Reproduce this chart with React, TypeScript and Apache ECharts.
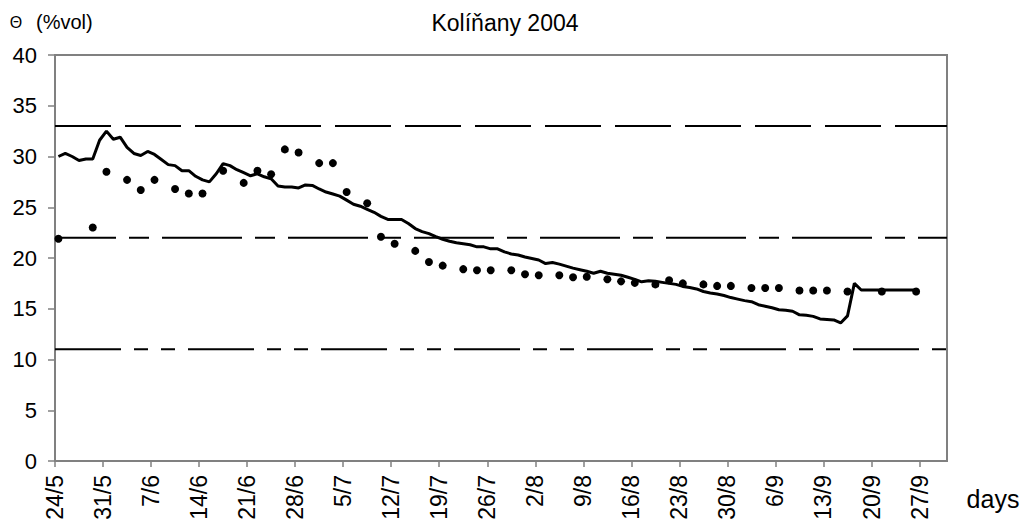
import React, { useEffect, useRef } from "react";
import * as echarts from "echarts";

// Day index counted from 24/5/2004
const tickDays = [0, 7, 14, 21, 28, 35, 42, 49, 56, 63, 70, 77, 84, 91, 98, 105, 112, 119, 126];
const tickLabels = ["24/5", "31/5", "7/6", "14/6", "21/6", "28/6", "5/7", "12/7", "19/7", "26/7", "2/8", "9/8", "16/8", "23/8", "30/8", "6/9", "13/9", "20/9", "27/9"];

// Simulated soil moisture (daily, from day 0)
const modelValues = [
  30.0, 30.3, 30.0, 29.6, 29.75, 29.75, 31.6, 32.5, 31.7, 31.9,
  30.9, 30.3, 30.1, 30.5, 30.2, 29.7, 29.2, 29.1, 28.6, 28.6,
  28.05, 27.7, 27.5, 28.3, 29.3, 29.1, 28.7, 28.4, 28.1, 28.3,
  28.0, 27.8, 27.1, 27.0, 27.0, 26.9, 27.2, 27.15, 26.8, 26.5,
  26.3, 26.1, 25.7, 25.3, 25.1, 24.8, 24.5, 24.1, 23.8, 23.8,
  23.8, 23.4, 22.9, 22.6, 22.4, 22.1, 21.85, 21.65, 21.5, 21.4,
  21.3, 21.1, 21.1, 20.9, 20.9, 20.6, 20.4, 20.3, 20.1, 19.95,
  19.8, 19.45, 19.55, 19.4, 19.2, 19.0, 18.85, 18.7, 18.5, 18.7,
  18.5, 18.4, 18.3, 18.1, 17.9, 17.65, 17.75, 17.7, 17.6, 17.5,
  17.4, 17.2, 17.1, 16.95, 16.7, 16.55, 16.45, 16.3, 16.1, 15.95,
  15.8, 15.7, 15.4, 15.25, 15.1, 14.9, 14.85, 14.75, 14.4, 14.35,
  14.25, 14.0, 13.95, 13.9, 13.6, 14.3, 17.5, 16.85, 16.85, 16.85,
  16.85, 16.85, 16.85, 16.85, 16.85, 16.85,
];

// Measured points
const measuredDays = [
  0, 5, 7, 10, 12, 14, 17, 19, 21, 24, 27, 29, 31, 33, 35, 38, 40, 42, 45, 47,
  49, 52, 54, 56, 59, 61, 63, 66, 68, 70, 73, 75, 77, 80, 82, 84, 87, 89, 91, 94,
  96, 98, 101, 103, 105, 108, 110, 112, 115, 120, 125,
];
const measuredValues = [
  21.9, 23.0, 28.5, 27.7, 26.7, 27.7, 26.8, 26.35, 26.35, 28.6, 27.4, 28.6, 28.25, 30.7, 30.4, 29.35, 29.35, 26.5, 25.4, 22.1,
  21.4, 20.7, 19.6, 19.25, 18.9, 18.8, 18.8, 18.8, 18.4, 18.3, 18.3, 18.1, 18.15, 17.9, 17.7, 17.55, 17.4, 17.8, 17.5, 17.4,
  17.25, 17.25, 17.05, 17.05, 17.05, 16.8, 16.8, 16.8, 16.7, 16.7, 16.7,
];

// Reference levels
const levelUpper = 33;
const levelMiddle = 22;
const levelLower = 11;

const X_MIN = 0;
const X_MAX = 130;
const DAY_OFFSET = 0.5; // points plotted between tick marks

const FONT = "'Liberation Sans', Arial, sans-serif";

export default function App() {
  const ref = useRef<HTMLDivElement>(null);

  useEffect(() => {
    if (!ref.current) return;
    const chart = echarts.init(ref.current, null, { renderer: "svg" });

    const levelSeries = (value: number, dash: number[], offset: number) => ({
      type: "line",
      data: [[X_MIN, value], [X_MAX, value]],
      symbol: "none",
      silent: true,
      lineStyle: { color: "#000", width: 2, type: dash, dashOffset: offset },
      z: 2,
    });

    chart.setOption({
      animation: false,
      backgroundColor: "#fff",
      textStyle: { fontFamily: FONT },
      grid: { left: 55, right: 78, top: 55, bottom: 64, show: true, borderColor: "#808080", borderWidth: 2 },
      xAxis: {
        type: "value",
        min: X_MIN,
        max: X_MAX,
        interval: 7,
        splitLine: { show: false },
        axisLine: { lineStyle: { color: "#808080", width: 2 } },
        axisTick: { customValues: tickDays, length: 6, lineStyle: { color: "#808080", width: 1.5 } },
        axisLabel: {
          customValues: tickDays,
          rotate: 90,
          margin: 14,
          fontSize: 23,
          color: "#000",
          fontFamily: FONT,
          formatter: (v: number) => {
            const i = tickDays.indexOf(Math.round(v));
            return i >= 0 ? tickLabels[i] : "";
          },
        },
      },
      yAxis: {
        type: "value",
        min: 0,
        max: 40,
        interval: 5,
        splitLine: { show: false },
        axisLine: { show: true, lineStyle: { color: "#808080", width: 2 } },
        axisTick: { show: true, length: 7, lineStyle: { color: "#808080", width: 1.5 } },
        axisLabel: { fontSize: 22, color: "#000", margin: 18, fontFamily: FONT },
      },
      graphic: [
        {
          type: "text",
          x: 505,
          y: 23,
          style: { text: "Kolíňany 2004", fontSize: 23, fontFamily: FONT, fill: "#000", textAlign: "center", textVerticalAlign: "middle" },
        },
        {
          type: "text",
          x: 16,
          y: 22,
          style: { text: "Θ", fontSize: 16, fontFamily: FONT, fill: "#000", textAlign: "center", textVerticalAlign: "middle" },
        },
        {
          type: "text",
          x: 36,
          y: 22,
          style: { text: "(%vol)", fontSize: 20, fontFamily: FONT, fill: "#000", textAlign: "left", textVerticalAlign: "middle" },
        },
        {
          type: "text",
          x: 993,
          y: 499,
          style: { text: "days", fontSize: 25, fontFamily: FONT, fill: "#000", textAlign: "center", textVerticalAlign: "middle" },
        },
      ],
      series: [
        levelSeries(levelUpper, [56, 14], 0),
        levelSeries(levelMiddle, [80, 13, 20, 13], 18.5),
        levelSeries(levelLower, [66, 13, 14, 13, 14, 13], 0),
        {
          type: "line",
          data: modelValues.map((v, i) => [i + DAY_OFFSET, v]),
          symbol: "none",
          lineStyle: { color: "#000", width: 3 },
          z: 3,
        },
        {
          type: "scatter",
          data: measuredDays.map((d, i) => [d + DAY_OFFSET, measuredValues[i]]),
          symbol: "circle",
          symbolSize: 8,
          itemStyle: { color: "#000", opacity: 1 },
          z: 4,
        },
      ],
    });

    return () => chart.dispose();
  }, []);

  return <div ref={ref} style={{ position: "fixed", left: 0, top: 0, width: 1025, height: 525 }} />;
}
